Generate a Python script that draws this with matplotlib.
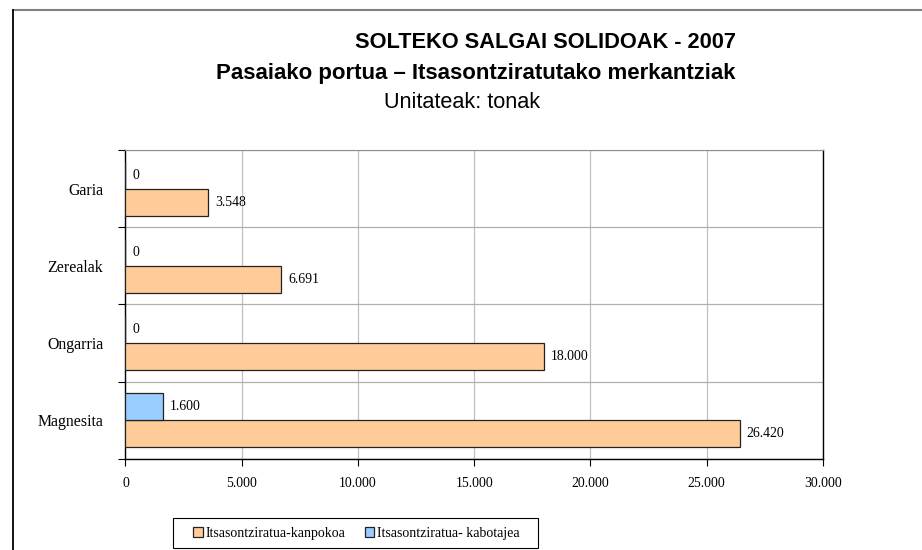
import numpy as np
from matplotlib import pyplot as plt
from matplotlib.ticker import FuncFormatter, MultipleLocator, FixedLocator
from matplotlib.lines import Line2D
from matplotlib.patches import Rectangle

# Datuak
kategoriak = ['Magnesita', 'Ongarria', 'Zerealak', 'Garia']
kanpokoa = [26420, 18000, 6691, 3548]
kabotajea = [1600, 0, 0, 0]
serie_izenak = ['Itsasontziratua-kanpokoa', 'Itsasontziratua- kabotajea']


def puntu(v):
    # milakoen bereizlea puntuarekin
    return f'{int(v):,}'.replace(',', '.')


def main():
    fig = plt.figure(figsize=(9.22, 5.5), dpi=100)
    ax = fig.add_axes([0.1361, 0.1655, 0.7565, 0.5618])

    y = np.arange(len(kategoriak))
    h = 0.35
    b1 = ax.barh(y - h / 2, kanpokoa, height=h, color='#FFCC99',
                 edgecolor='#222222', linewidth=0.9, zorder=3)
    b2 = ax.barh(y + h / 2, kabotajea, height=h, color='#99CCFF',
                 edgecolor='#222222', linewidth=0.9, zorder=3)

    for bars, vals in ((b1, kanpokoa), (b2, kabotajea)):
        for bar, v in zip(bars, vals):
            ax.annotate(puntu(v), (v, bar.get_y() + bar.get_height() / 2),
                        xytext=(5, 0), textcoords='offset points',
                        va='center', ha='left', fontsize=9.9,
                        family='Liberation Serif')

    ax.set_xlim(0, 30000)
    ax.set_ylim(-0.5, len(kategoriak) - 0.5)
    ax.xaxis.set_major_locator(MultipleLocator(5000))
    ax.xaxis.set_major_formatter(FuncFormatter(lambda v, p: puntu(v)))
    ax.set_yticks(y)
    ax.set_yticklabels(kategoriak, family='Liberation Serif', fontsize=11.4)
    ax.yaxis.set_minor_locator(FixedLocator(np.arange(-0.5, len(kategoriak), 1)))
    ax.tick_params(axis='y', which='major', length=0, pad=16)
    ax.tick_params(axis='y', which='minor', length=5, width=0.8)
    ax.tick_params(axis='x', length=5, width=0.8, pad=8, labelsize=9.9)
    for t in ax.get_xticklabels():
        t.set_family('Liberation Serif')

    ax.grid(axis='x', color='#c0c0c0', linewidth=0.9, zorder=0)
    ax.grid(axis='y', which='minor', color='#b0b0b0', linewidth=0.9, zorder=0)
    ax.set_axisbelow(True)
    ax.spines['top'].set_color('#909090')
    for s in ('left', 'right', 'bottom'):
        ax.spines[s].set_color('black')
        ax.spines[s].set_linewidth(1.0)

    fig.text(0.592, 1 - 43 / 550, 'SOLTEKO SALGAI SOLIDOAK - 2007', ha='center',
             va='center', fontsize=15.7, fontweight='bold', family='Liberation Sans')
    fig.text(0.516, 1 - 74 / 550, 'Pasaiako portua – Itsasontziratutako merkantziak',
             ha='center', va='center', fontsize=16, fontweight='bold',
             family='Liberation Sans')
    fig.text(0.501, 1 - 102 / 550, 'Unitateak: tonak', ha='center', va='center',
             fontsize=15.6, family='Liberation Sans')

    # kanpoko marko zatia
    fig.add_artist(Line2D([13 / 922, 1], [1 - 9.5 / 550] * 2,
                          transform=fig.transFigure, color='#808080', linewidth=1.5))
    fig.add_artist(Line2D([13 / 922] * 2, [0, 1 - 9.5 / 550],
                          transform=fig.transFigure, color='black', linewidth=1.3))

    # legenda, markoa aparte marraztuta
    fig.add_artist(Rectangle((173 / 922, 1 - 548 / 550), 365 / 922, 30 / 550,
                             transform=fig.transFigure, facecolor='white',
                             edgecolor='black', linewidth=0.8))
    leg = fig.legend([b1, b2], serie_izenak, loc='center left',
                     bbox_to_anchor=(186 / 922, 1 - 533 / 550), ncol=2,
                     prop={'family': 'Liberation Serif', 'size': 10},
                     frameon=False, handlelength=0.7, borderpad=0,
                     handleheight=0.7, handletextpad=0.2, columnspacing=1.4)

    fig.savefig('out.png', dpi=100)


if __name__ == '__main__':
    main()
